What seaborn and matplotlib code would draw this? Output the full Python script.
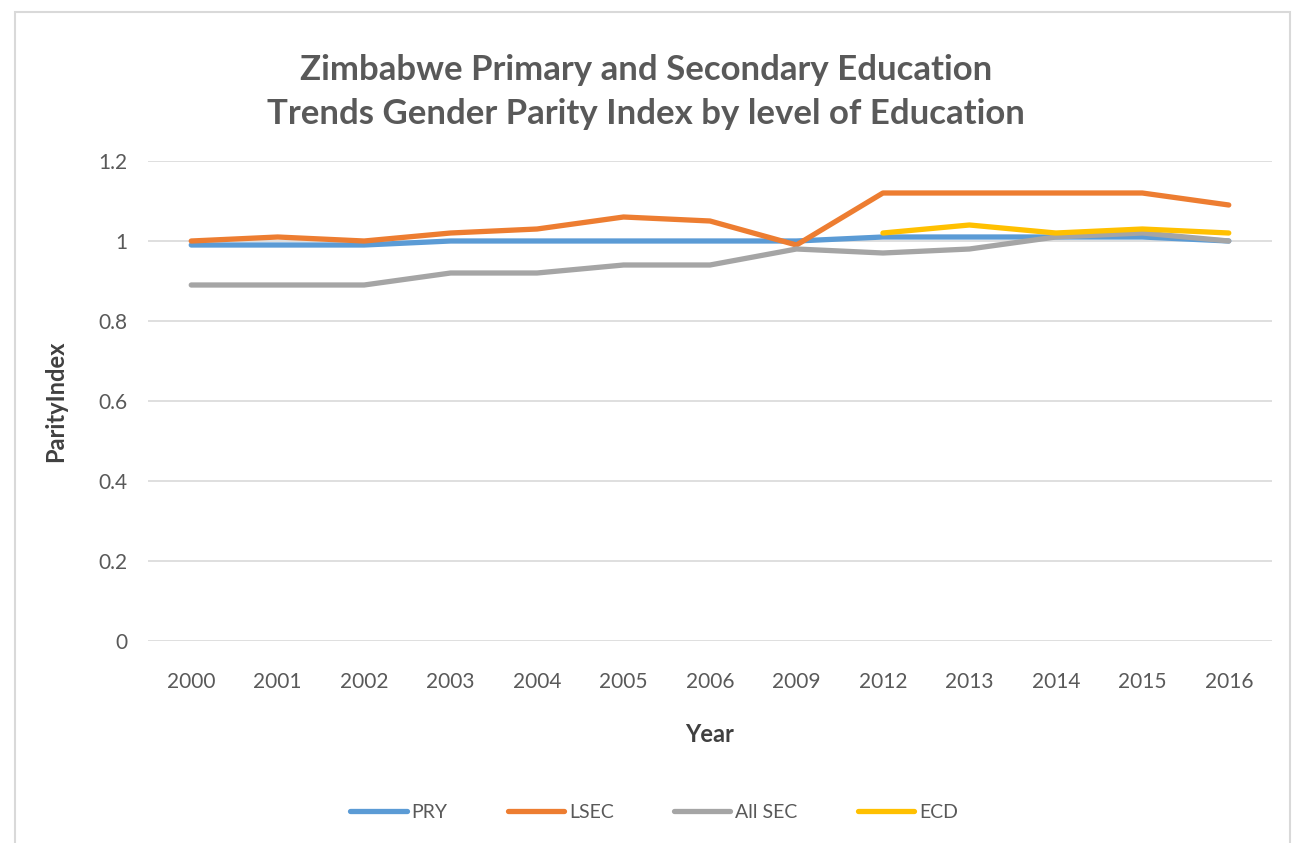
import matplotlib
matplotlib.use("Agg")
import matplotlib.pyplot as plt
import seaborn as sns
import pandas as pd
import numpy as np
from matplotlib.patches import Rectangle
from matplotlib.lines import Line2D

years = ["2000", "2001", "2002", "2003", "2004", "2005", "2006", "2009",
         "2012", "2013", "2014", "2015", "2016"]
pry = [0.99, 0.99, 0.99, 1.00, 1.00, 1.00, 1.00, 1.00, 1.01, 1.01, 1.01, 1.01, 1.00]
lsec = [1.00, 1.01, 1.00, 1.02, 1.03, 1.06, 1.05, 0.99, 1.12, 1.12, 1.12, 1.12, 1.09]
allsec = [0.89, 0.89, 0.89, 0.92, 0.92, 0.94, 0.94, 0.98, 0.97, 0.98, 1.01, 1.02, 1.00]
ecd = [np.nan] * 8 + [1.02, 1.04, 1.02, 1.03, 1.02]
series_names = ["PRY", "LSEC", "All SEC", "ECD"]
colors = ["#5B9BD5", "#ED7D31", "#A5A5A5", "#FFC000"]
yticks = [0, 0.2, 0.4, 0.6, 0.8, 1, 1.2]
ytick_labels = ["0", "0.2", "0.4", "0.6", "0.8", "1", "1.2"]

rows = []
for name, vals in zip(series_names, [pry, lsec, allsec, ecd]):
    for yr, v in zip(years, vals):
        rows.append({"Year": yr, "Index": v, "Series": name})
df = pd.DataFrame(rows)

sns.set_theme(style="white")
plt.rcParams['font.family'] = ['Lato', 'DejaVu Sans']

W, H = 1306, 843
L, R, T, B = 148, 1272, 161, 641
fig = plt.figure(figsize=(W/100, H/100), dpi=100)
ax = fig.add_axes([L/W, 1-B/H, (R-L)/W, (B-T)/H])

fig.patches.append(Rectangle((15/W, -0.01), (1290-15)/W, 1-12/H + 0.01,
                             transform=fig.transFigure, fill=False,
                             edgecolor="#D9D9D9", linewidth=1.5, zorder=0))

sns.lineplot(data=df, x="Year", y="Index", hue="Series", palette=colors,
             hue_order=series_names, linewidth=3.8, sort=False, ax=ax,
             legend=False)
for ln in ax.lines:
    ln.set_solid_capstyle("round")

ax.set_xlim(-0.5, len(years) - 0.5)
ax.set_ylim(0, 1.2)
ax.set_yticks(yticks)
ax.set_yticklabels(ytick_labels)
ax.yaxis.grid(True, color="#D9D9D9", linewidth=1.2)
ax.set_axisbelow(True)
for s in ax.spines.values():
    s.set_visible(False)
ax.tick_params(axis="both", length=0, labelsize=15, colors="#595959")
ax.tick_params(axis="x", pad=22)
ax.tick_params(axis="y", pad=15)

ax.set_xlabel("Year", fontsize=17, fontweight="bold", color="#404040")
ax.xaxis.label.set_va("baseline")
ax.xaxis.set_label_coords(0.5, (B-742)/(B-T))
ax.set_ylabel("ParityIndex", fontsize=17, fontweight="bold", color="#404040")
ax.yaxis.set_label_coords(-(L-67)/(R-L), 0.5)

fig.text(646/W, 1-92/H,
         "Zimbabwe Primary and Secondary Education\nTrends Gender Parity Index by level of Education",
         ha="center", va="center", fontsize=25, fontweight="bold", color="#595959",
         linespacing=1.45)

handles = [Line2D([0], [0], color=c, linewidth=3.8, solid_capstyle="round") for c in colors]
fig.legend(handles, series_names, loc="center", bbox_to_anchor=(654/W, 1-812/H),
           ncol=4, frameon=False, fontsize=14, handlelength=2.9, handletextpad=0.25,
           columnspacing=3.1, labelcolor="#595959")

fig.savefig("out.png", dpi=100)
